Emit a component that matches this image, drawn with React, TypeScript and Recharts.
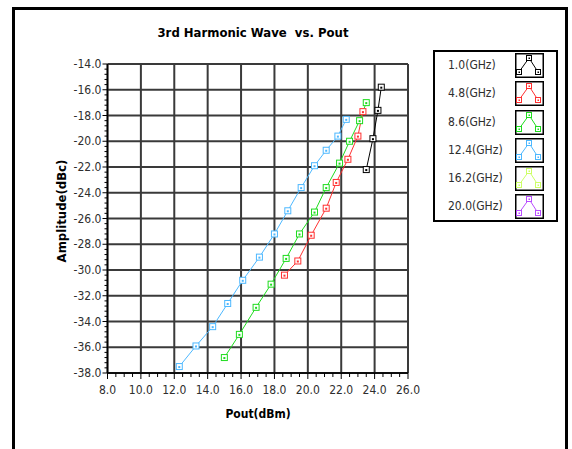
import React from 'react';
import { LineChart, Line, XAxis, YAxis, CartesianGrid, Legend } from 'recharts';

const FONT = "'DejaVu Sans Condensed', 'DejaVu Sans', sans-serif";

// axis ticks
const xTicks = [8, 10, 12, 14, 16, 18, 20, 22, 24, 26];
const yTicks = [-14, -16, -18, -20, -22, -24, -26, -28, -30, -32, -34, -36, -38];

// series: Pout (dBm) / amplitude (dBc)
const pout_1_0 = [23.5, 23.9, 24.2, 24.4];
const amp_1_0 = [-22.2, -19.8, -17.6, -15.8];

const pout_4_8 = [18.6, 19.4, 20.2, 21.1, 21.7, 22.4, 23.0, 23.3];
const amp_4_8 = [-30.4, -29.3, -27.3, -25.2, -23.2, -21.4, -19.6, -17.7];

const pout_8_6 = [15.0, 15.9, 16.9, 17.8, 18.7, 19.5, 20.4, 21.1, 21.9, 22.5, 23.1, 23.5];
const amp_8_6 = [-36.8, -35.0, -32.9, -31.1, -29.1, -27.2, -25.5, -23.6, -21.7, -20.0, -18.4, -17.0];

const pout_12_4 = [12.3, 13.3, 14.3, 15.2, 16.1, 17.1, 18.0, 18.8, 19.6, 20.4, 21.1, 21.8, 22.3];
const amp_12_4 = [-37.5, -35.9, -34.4, -32.6, -30.8, -29.0, -27.2, -25.4, -23.6, -21.9, -20.7, -19.6, -18.3];

// no visible points for these two
const pout_16_2: number[] = [];
const amp_16_2: number[] = [];
const pout_20_0: number[] = [];
const amp_20_0: number[] = [];

const zip = (xs: number[], ys: number[]) => xs.map((x, i) => ({ x, y: ys[i] }));

const series = [
  { name: '1.0(GHz)', color: '#000000', data: zip(pout_1_0, amp_1_0) },
  { name: '4.8(GHz)', color: '#ff3030', data: zip(pout_4_8, amp_4_8) },
  { name: '8.6(GHz)', color: '#1fdc1f', data: zip(pout_8_6, amp_8_6) },
  { name: '12.4(GHz)', color: '#4db8ff', data: zip(pout_12_4, amp_12_4) },
  { name: '16.2(GHz)', color: '#ccff66', data: zip(pout_16_2, amp_16_2) },
  { name: '20.0(GHz)', color: '#b94dff', data: zip(pout_20_0, amp_20_0) },
];

// minor tick positions (major + in-between marks)
const xAllTicks = Array.from({ length: 37 }, (_, i) => Math.round((8 + i * 0.5) * 10) / 10);
const yAllTicks = Array.from({ length: 61 }, (_, i) => Math.round((-38 + i * 0.4) * 10) / 10);

const tickText = { fontFamily: FONT, fontSize: 12, fill: '#2e2e2e' };

const YTick = (props: any) => {
  const { x, y, payload } = props;
  const major = yTicks.includes(payload.value);
  return (
    <g>
      <line x1={x - (major ? 5 : 3)} x2={x} y1={y} y2={y} stroke="#000" strokeWidth={1} />
      {major && (
        <text x={x - 6} y={y} dy={4} textAnchor="end" style={tickText}>
          {payload.value.toFixed(1)}
        </text>
      )}
    </g>
  );
};

const XTick = (props: any) => {
  const { x, y, payload } = props;
  const major = xTicks.includes(payload.value);
  return (
    <g>
      <line x1={x} x2={x} y1={y} y2={y + (major ? 6 : 4)} stroke="#000" strokeWidth={1} />
      {major && (
        <text x={x} y={y + 21} textAnchor="middle" style={tickText}>
          {payload.value.toFixed(1)}
        </text>
      )}
    </g>
  );
};

const SquareDot = (props: any) => {
  const { cx, cy, stroke } = props;
  if (cx == null || cy == null) return null;
  return (
    <g>
      <rect x={cx - 3} y={cy - 3} width={6} height={6} fill="#fff" stroke={stroke} strokeWidth={1} />
      <rect x={cx - 1} y={cy - 0.5} width={2} height={2} fill={stroke} />
    </g>
  );
};

const LegendIcon = ({ color }: { color: string }) => (
  <svg width={29} height={25} style={{ position: 'absolute', left: 80, top: 1 }}>
    <rect x={0.75} y={0.75} width={27.5} height={23.5} fill="#fff" stroke="#000" strokeWidth={1.5} />
    <polyline points="4,19 14,5 23,19" fill="none" stroke={color} strokeWidth={1} />
    {[[4, 19], [14, 5], [23, 19]].map(([px, py], i) => (
      <g key={i}>
        <rect x={px - 2.5} y={py - 2.5} width={5} height={5} fill="#fff" stroke={color} strokeWidth={1} />
        <rect x={px - 0.5} y={py - 0.5} width={1.5} height={1.5} fill={color} />
      </g>
    ))}
  </svg>
);

const LegendBox = () => (
  <div
    style={{
      width: 121,
      height: 168,
      border: '2px solid #000',
      background: '#fff',
      fontFamily: FONT,
      fontSize: 12,
      color: '#2e2e2e',
    }}
  >
    {series.map((s) => (
      <div key={s.name} style={{ position: 'relative', height: 28.3 }}>
        <span style={{ position: 'absolute', left: 13, top: 6 }}>{s.name}</span>
        <LegendIcon color={s.color} />
      </div>
    ))}
  </div>
);

export default function App() {
  return (
    <div style={{ position: 'absolute', left: 0, top: 0, width: 572, height: 449, background: '#fff', overflow: 'hidden' }}>
      {/* outer frame */}
      <div
        style={{
          position: 'absolute',
          left: 12,
          top: 7,
          width: 550,
          height: 470,
          border: '3px solid #000',
        }}
      />
      <div
        style={{
          position: 'absolute',
          left: 153,
          top: 25,
          width: 200,
          textAlign: 'center',
          fontFamily: FONT,
          fontWeight: 'bold',
          fontSize: 13,
          color: '#000',
        }}
      >
        3rd Harmonic Wave&nbsp;&nbsp;vs. Pout
      </div>
      <div style={{ position: 'absolute', left: 0, top: 0 }}>
        <LineChart width={572} height={449} margin={{ top: 64, right: 164, bottom: 46, left: 0 }}>
          <CartesianGrid
            horizontalValues={yTicks}
            verticalValues={xTicks}
            stroke="#3a3a3a"
            strokeWidth={2}
          />
          <XAxis
            type="number"
            dataKey="x"
            domain={[8, 26]}
            ticks={xAllTicks}
            interval={0}
            allowDataOverflow
            height={30}
            tickSize={0}
            tickMargin={0}
            tickLine={false}
            tick={<XTick />}
            axisLine={{ stroke: '#000', strokeWidth: 1.5 }}
            label={{
              content: () => (
                <text x={258} y={418} textAnchor="middle" style={{ fontFamily: FONT, fontSize: 12, fontWeight: 'bold', fill: '#000' }}>
                  Pout(dBm)
                </text>
              ),
            }}
          />
          <YAxis
            type="number"
            dataKey="y"
            domain={[-38, -14]}
            ticks={yAllTicks}
            interval={0}
            allowDataOverflow
            width={107.5}
            tickSize={0}
            tickMargin={0}
            tickLine={false}
            tick={<YTick />}
            axisLine={{ stroke: '#000', strokeWidth: 1.5 }}
            label={{
              content: () => (
                <text
                  x={62}
                  y={211}
                  dy={4}
                  transform="rotate(-90 62 211)"
                  textAnchor="middle"
                  style={{ fontFamily: FONT, fontSize: 13, fontWeight: 'bold', fill: '#000' }}
                >
                  Amplitude(dBc)
                </text>
              ),
            }}
          />
          <Legend
            layout="vertical"
            align="center"
            verticalAlign="middle"
            content={() => <LegendBox />}
            wrapperStyle={{ position: 'absolute', left: 433, top: 50, width: 125, height: 172 }}
          />
          {series.map((s) => (
            <Line
              key={s.name}
              data={s.data}
              dataKey="y"
              name={s.name}
              stroke={s.color}
              strokeWidth={1}
              isAnimationActive={false}
              dot={(p: any) => <SquareDot key={`${s.name}-${p.index}`} {...p} stroke={s.color} />}
              activeDot={false}
            />
          ))}
        </LineChart>
      </div>
    </div>
  );
}
